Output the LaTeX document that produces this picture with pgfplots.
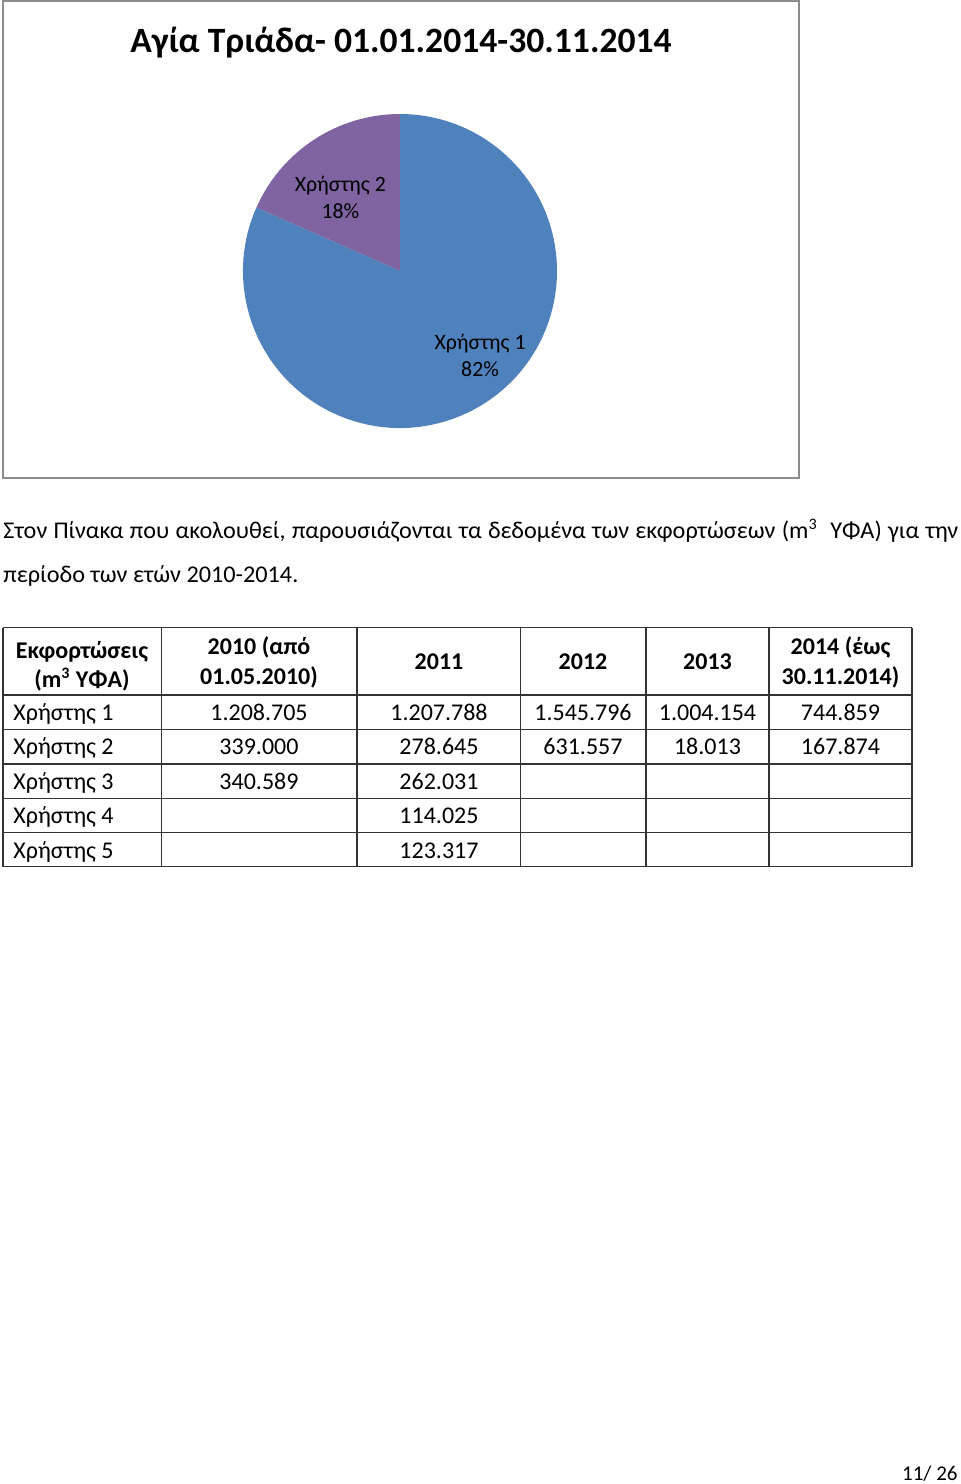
\documentclass[border=0pt]{standalone}
\usepackage{pgfplots}
\pgfplotsset{compat=1.18}
\usepackage{pgfplotstable}
\usepackage{graphicx}
\usepackage{fontspec}
\setmainfont{Carlito}
\definecolor{pieblue}{HTML}{4F81BD}
\definecolor{piepurple}{HTML}{8064A2}
\definecolor{framegray}{HTML}{8C8C8C}

% 2014 (έως 30.11.2014) values, thousands of m3
\pgfplotstableread{
user value
1 744.859
2 167.874
}\piedata

\newsavebox\lineB
\newsavebox\lineA
\begin{document}
\sbox\lineB{\fontsize{12}{14}\selectfont περίοδο των ετών 2010-2014.}%
\pgfmathsetmacro\cf{147.5/\wd\lineB}%
\pgfmathsetlengthmacro\lineAw{477.5pt/\cf}%
\sbox\lineA{\fontsize{12}{14}\selectfont\makebox[\lineAw][s]{Στον Πίνακα που ακολουθεί, παρουσιάζονται τα δεδομένα των εκφορτώσεων (m\textsuperscript{3}\ \ ΥΦΑ) για την}}%
\begin{tikzpicture}
\pgfplotstablegetelem{0}{value}\of\piedata \let\va\pgfplotsretval
\pgfplotstablegetelem{1}{value}\of\piedata \let\vb\pgfplotsretval
\pgfmathsetmacro\sumv{\va+\vb}
\pgfmathsetmacro\fa{\va/\sumv}
\pgfmathsetmacro\fb{\vb/\sumv}
\pgfmathtruncatemacro\pa{round(100*\fa)}
\pgfmathtruncatemacro\pb{round(100*\fb)}
\pgfmathsetmacro\angB{90+360*\fb}
\begin{scope}[x=0.5pt,y=-0.5pt]
  \fill[white] (0,0) rectangle (960,1484);
  \draw[framegray,line width=0.9pt] (3,1) rectangle (799,478);
  \node[anchor=base,font=\fontsize{17.8}{22}\selectfont\bfseries] at (401,52) {Αγία Τριάδα- 01.01.2014-30.11.2014};
\end{scope}
\begin{axis}[at={(200pt,-135.5pt)},anchor=center,width=157pt,height=157pt,
  scale only axis,hide axis,xmin=-1,xmax=1,ymin=-1,ymax=1,clip=false]
  \fill[piepurple] (axis cs:0,0) -- (axis cs:0,1) arc[start angle=90,end angle=\angB,radius=78.5pt] -- cycle;
  \fill[pieblue] (axis cs:0,0) -- (axis cs:{cos(\angB)},{sin(\angB)}) arc[start angle=\angB,end angle=450,radius=78.5pt] -- cycle;
  \node[align=center,font=\fontsize{10.9}{13.5}\selectfont] at (axis cs:-0.38,0.47) {Χρήστης 2\\\pb\%};
  \node[align=center,font=\fontsize{10.9}{13.5}\selectfont] at (axis cs:0.51,-0.535) {Χρήστης 1\\\pa\%};
\end{axis}
\begin{scope}[x=0.5pt,y=-0.5pt]
  \node[anchor=base west,inner sep=0pt] at (3,538) {\scalebox{\cf}[1]{\usebox\lineA}};
  \node[anchor=base west,inner sep=0pt] at (3,582) {\scalebox{\cf}[1]{\usebox\lineB}};
  % table grid
  \foreach \yy in {627.5,695,729.5,764,798.5,832.5,866.5}
    \draw[black!80,line width=0.6pt] (3,\yy) -- (912,\yy);
  \foreach \xx in {3,161.5,357,520.5,646,769,912}
    \draw[black!80,line width=0.6pt] (\xx,627.5) -- (\xx,866.5);
  \begin{scope}[every node/.style={anchor=base,inner sep=0pt,font=\fontsize{12}{14}\selectfont}]
  % header
  \node[font=\fontsize{12}{14}\selectfont\bfseries] at (82,658) {Εκφορτώσεις};
  \node[font=\fontsize{12}{14}\selectfont\bfseries] at (82,687) {(m\textsuperscript{3} ΥΦΑ)};
  \node[font=\fontsize{12}{14}\selectfont\bfseries] at (259,654) {2010 (από};
  \node[font=\fontsize{12}{14}\selectfont\bfseries] at (259,684) {01.05.2010)};
  \node[font=\fontsize{12}{14}\selectfont\bfseries] at (439,669) {2011};
  \node[font=\fontsize{12}{14}\selectfont\bfseries] at (583,669) {2012};
  \node[font=\fontsize{12}{14}\selectfont\bfseries] at (707.5,669) {2013};
  \node[font=\fontsize{12}{14}\selectfont\bfseries] at (840.5,654) {2014 (έως};
  \node[font=\fontsize{12}{14}\selectfont\bfseries] at (840.5,684) {30.11.2014)};
  % rows
  \foreach \r/\yy in {1/720,2/754.5,3/789,4/823.5,5/858}
    \node[anchor=base west] at (13,\yy) {Χρήστης \r};
  \node at (259,720) {1.208.705}; \node at (439,720) {1.207.788}; \node at (583,720) {1.545.796}; \node at (707.5,720) {1.004.154}; \node at (840.5,720) {744.859};
  \node at (259,754.5) {339.000}; \node at (439,754.5) {278.645}; \node at (583,754.5) {631.557}; \node at (707.5,754.5) {18.013}; \node at (840.5,754.5) {167.874};
  \node at (259,789) {340.589}; \node at (439,789) {262.031};
  \node at (439,823.5) {114.025};
  \node at (439,858) {123.317};
  \node[anchor=base east,font=\fontsize{10.5}{13}\selectfont] at (958,1480) {11/ 26};
  \end{scope}
\end{scope}
\end{tikzpicture}
\end{document}
